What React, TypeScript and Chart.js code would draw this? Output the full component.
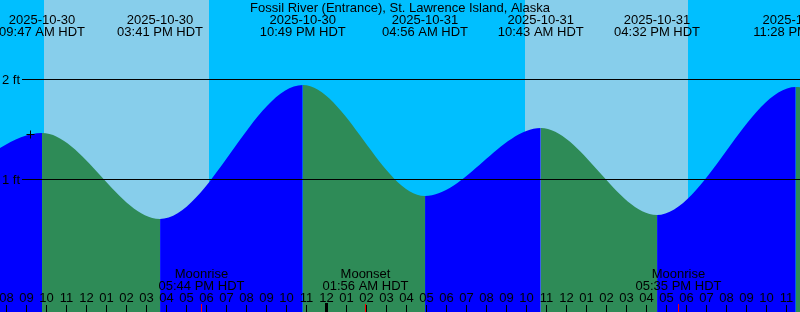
import { useEffect, useRef } from "react";
import { Chart, registerables } from "chart.js";

Chart.register(...registerables);

// Time axis: hours since 2025-10-30 00:00 HDT
const X_MIN = 7.68;
const X_MAX = 47.68;
const Y_MIN = -0.33;
const Y_MAX = 2.79;

const TITLE = "Fossil River (Entrance), St. Lawrence Island, Alaska";

// Tide curve (highs/lows, incl. one just outside each edge), feet
const tideTimes = [-2.9, 3.67, 9.783, 15.683, 22.817, 28.933, 34.717, 40.533, 47.467, 53.6];
const tideHeights = [1.95, 0.91, 1.46, 0.6, 1.94, 0.83, 1.51, 0.64, 1.92, 0.8];

// Labelled extremes
const extremeTimes = [9.783, 15.683, 22.817, 28.933, 34.717, 40.533, 47.467];
const extremeDates = ["2025-10-30", "2025-10-30", "2025-10-30", "2025-10-31", "2025-10-31", "2025-10-31", "2025-10-31"];
const extremeClock = ["09:47 AM HDT", "03:41 PM HDT", "10:49 PM HDT", "04:56 AM HDT", "10:43 AM HDT", "04:32 PM HDT", "11:28 PM HDT"];

// Daylight
const dayStart = [9.88, 33.93];
const dayEnd = [18.13, 42.08];

// Moon events
const moonTimes = [17.733, 25.933, 41.583];
const moonEvents = ["Moonrise", "Moonset", "Moonrise"];
const moonClock = ["05:44 PM HDT", "01:56 AM HDT", "05:35 PM HDT"];

// Hour ticks
const hourTicks = [8, 9, 10, 11, 12, 13, 14, 15, 16, 17, 18, 19, 20, 21, 22, 23, 24, 25, 26, 27, 28, 29, 30, 31, 32, 33, 34, 35, 36, 37, 38, 39, 40, 41, 42, 43, 44, 45, 46, 47, 48];
const hourLabels = ["08", "09", "10", "11", "12", "01", "02", "03", "04", "05", "06", "07", "08", "09", "10", "11", "12", "01", "02", "03", "04", "05", "06", "07", "08", "09", "10", "11", "12", "01", "02", "03", "04", "05", "06", "07", "08", "09", "10", "11", "12"];
const midnightTicks = [24, 48];

// Height grid
const ftValues = [1, 2];
const ftLabels = ["1 ft", "2 ft"];

// Current-time mark
const nowTime = [9.205];
const nowHeight = [1.445];

const NIGHT = "#00BFFF";
const DAY = "#87CEEB";
const RISE = "#0000FF";
const FALL = "#2E8B57";
const FONT = '13px "Liberation Sans", Arial, sans-serif';

const decor = {
  id: "decor",
  beforeDatasetsDraw(chart: any) {
    const { ctx, chartArea: a, scales } = chart;
    const x = scales.x;
    ctx.save();
    ctx.fillStyle = NIGHT;
    ctx.fillRect(a.left, a.top, a.right - a.left, a.bottom - a.top);
    ctx.fillStyle = DAY;
    dayStart.forEach((s, i) => {
      const x0 = Math.round(x.getPixelForValue(s));
      const x1 = Math.round(x.getPixelForValue(dayEnd[i]));
      ctx.fillRect(x0, a.top, x1 - x0, a.bottom - a.top);
    });
    ctx.restore();
  },
  afterDatasetsDraw(chart: any) {
    const { ctx, chartArea: a, scales } = chart;
    const x = scales.x;
    const y = scales.y;
    ctx.save();
    ctx.font = FONT;
    ctx.fillStyle = "#000";
    ctx.textBaseline = "alphabetic";

    // height grid lines + labels
    ftValues.forEach((v, i) => {
      const py = Math.round(y.getPixelForValue(v));
      ctx.fillStyle = "#000";
      ctx.fillRect(22, py, a.right - 22, 1);
      ctx.textAlign = "left";
      ctx.fillText(ftLabels[i], 2, py + 5);
    });

    // title
    ctx.textAlign = "center";
    ctx.fillText(TITLE, (a.left + a.right) / 2, 12);

    // extremes labels
    extremeTimes.forEach((t, i) => {
      const px = x.getPixelForValue(t);
      ctx.fillText(extremeDates[i], px, 24);
      ctx.fillText(extremeClock[i], px, 36);
    });

    // hour ticks and labels
    hourTicks.forEach((h, i) => {
      const px = Math.round(x.getPixelForValue(h));
      ctx.fillStyle = "#000";
      if (midnightTicks.includes(h)) {
        ctx.fillRect(px - 1, 303, 3, 9);
      } else {
        ctx.fillRect(px, 305, 1, 7);
      }
      ctx.textAlign = "center";
      ctx.fillText(hourLabels[i], px + 0.5, 302);
    });

    // moon events
    moonTimes.forEach((t, i) => {
      const px = Math.round(x.getPixelForValue(t));
      ctx.fillStyle = "#FF0000";
      ctx.fillRect(px, 304, 1, 8);
      ctx.fillStyle = "#000";
      ctx.textAlign = "center";
      ctx.fillText(moonEvents[i], px + 0.5, 278);
      ctx.fillText(moonClock[i], px + 0.5, 290);
    });
    ctx.restore();
  },
};

export default function App() {
  const ref = useRef<HTMLCanvasElement | null>(null);
  useEffect(() => {
    document.body.style.margin = "0";
    const canvas = ref.current;
    if (!canvas) return;
    const chart = new Chart(canvas, {
      type: "line",
      data: {
        datasets: [
          {
            type: "line",
            data: nowTime.map((t, i) => ({ x: t, y: nowHeight[i] })),
            showLine: false,
            pointStyle: "cross",
            pointRadius: 4,
            pointBorderColor: "#000",
            pointBorderWidth: 1,
            borderColor: "#000",
            fill: false,
            clip: false,
          } as any,
          {
            type: "line",
            data: tideTimes.map((t, i) => ({ x: t, y: tideHeights[i] })),
            fill: "start",
            cubicInterpolationMode: "monotone",
            capBezierPoints: false,
            pointRadius: 0,
            borderWidth: 0,
            backgroundColor: RISE,
            borderColor: RISE,
            segment: {
              backgroundColor: (c: any) => (c.p1.parsed.y >= c.p0.parsed.y ? RISE : FALL),
              borderColor: (c: any) => (c.p1.parsed.y >= c.p0.parsed.y ? RISE : FALL),
            },
          } as any,
        ],
      },
      options: {
        animation: false,
        responsive: false,
        devicePixelRatio: 1,
        layout: { padding: 0, autoPadding: false },
        events: [],
        scales: {
          x: { type: "linear", min: X_MIN, max: X_MAX, display: false },
          y: { type: "linear", min: Y_MIN, max: Y_MAX, display: false },
        },
        plugins: {
          legend: { display: false },
          tooltip: { enabled: false },
          title: { display: false },
        },
      },
      plugins: [decor],
    });
    return () => chart.destroy();
  }, []);
  return <canvas ref={ref} width={800} height={312} style={{ display: "block" }} />;
}
